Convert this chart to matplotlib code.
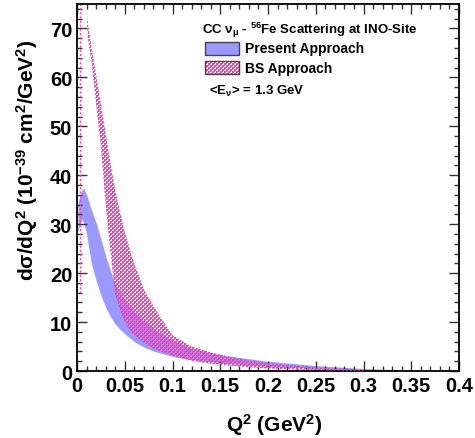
import numpy as np
import matplotlib
matplotlib.use("Agg")
import matplotlib.pyplot as plt
from matplotlib.patches import Rectangle

plt.rcParams['font.family'] = ['Liberation Sans', 'DejaVu Sans']
plt.rcParams['font.weight'] = 'bold'
plt.rcParams['mathtext.fontset'] = 'custom'
plt.rcParams['mathtext.rm'] = 'Liberation Sans:bold'
plt.rcParams['mathtext.bf'] = 'Liberation Sans:bold'
plt.rcParams['mathtext.it'] = 'Liberation Sans'
plt.rcParams['mathtext.default'] = 'bf'

# ---------------- data ----------------
present_q = [0.001, 0.003, 0.005, 0.007, 0.01, 0.015, 0.02, 0.025, 0.03, 0.035, 0.04, 0.045,
             0.05, 0.06, 0.07, 0.08, 0.09, 0.1, 0.12, 0.15, 0.18, 0.2, 0.25, 0.3, 0.35, 0.4]
present_upper = [34, 35.8, 37, 37.3, 36, 33, 30.3, 27, 23.5, 20.5, 17.8, 16,
                 14.5, 12.2, 10.3, 8.7, 7.4, 6.3, 4.7, 3.3, 2.5, 2.0, 1.1, 0.5, 0.2, 0.08]
present_lower = [28.5, 30, 31, 30.3, 28, 22, 18.5, 15.5, 13, 11.1, 9.6, 8.5,
                 7.6, 6.0, 4.9, 4.1, 3.5, 3.0, 2.3, 1.7, 1.2, 0.95, 0.45, 0.2, 0.08, 0.03]

bs_q = [0.0105, 0.0125, 0.015, 0.02, 0.025, 0.03, 0.0325, 0.035, 0.0375, 0.04, 0.045, 0.05,
        0.055, 0.06, 0.07, 0.08, 0.09, 0.1, 0.12, 0.14, 0.17, 0.2, 0.25, 0.3]
bs_lower = [70, 66.5, 63.5, 54.5, 46, 34, 29, 24.5, 20, 15.5, 12.5, 10,
            8.5, 7.3, 5.8, 4.6, 3.8, 3.1, 2.1, 1.5, 0.9, 0.5, 0.2, 0.05]
bs_upper = [72.5, 69.5, 66.5, 60.5, 54.5, 48.5, 45.5, 42.5, 39.7, 37, 32.5, 28.5,
            25, 22, 16.7, 13.3, 10.2, 7.3, 5.0, 3.8, 2.5, 1.6, 0.7, 0.25]
bs_edge_q = [0.003, 0.003]
bs_edge_y = [16, 75]

xticks = [0, 0.05, 0.1, 0.15, 0.2, 0.25, 0.3, 0.35, 0.4]
xticklabels = ["0", "0.05", "0.1", "0.15", "0.2", "0.25", "0.3", "0.35", "0.4"]
yticks = [0, 10, 20, 30, 40, 50, 60, 70]
yticklabels = ["0", "10", "20", "30", "40", "50", "60", "70"]

BLUE = '#9999ff'
PINK = '#ff3ca8'

W, H = 475, 439
fig = plt.figure(figsize=(W / 100, H / 100), dpi=100)
ax_l, ax_r, ax_t, ax_b = 77, 459, 5, 372
ax = fig.add_axes([ax_l / W, 1 - ax_b / H, (ax_r - ax_l) / W, (ax_b - ax_t) / H])
ax.set_zorder(0)

# checker pattern (pixel exact, whole figure)
ii, jj = np.mgrid[0:H, 0:W]
rgba = np.zeros((H, W, 4))
pat = ((ii // 2 + jj // 2) % 2 == 0) | ((ii % 2 == 0) & (jj % 2 == 0))
rgba[pat] = matplotlib.colors.to_rgba(PINK)

# Present approach band
ax.fill_between(present_q, present_lower, present_upper, color=BLUE, lw=0, zorder=1)

# BS approach band: checker pattern clipped to band
bs_poly = ax.fill_between(bs_q, bs_lower, bs_upper, facecolor='none', lw=0, zorder=1)
band_img = fig.figimage(rgba, xo=0, yo=0, origin='upper', zorder=0.5)
band_img.set_clip_path(bs_poly.get_paths()[0], ax.transData)
ax.plot(bs_edge_q, bs_edge_y, color=PINK, lw=1, ls=(0, (1.5, 1.5)), zorder=2)

ax.set_xlim(0, 0.4)
ax.set_ylim(0, 75)
ax.set_xticks(xticks)
ax.set_xticklabels(xticklabels)
ax.set_yticks(yticks)
ax.set_yticklabels(yticklabels)
ax.set_xticks(np.arange(0, 0.4001, 0.01), minor=True)
ax.set_yticks(np.arange(0, 75.01, 2), minor=True)
ax.tick_params(which='both', direction='in', top=True, right=True, width=1, color='#333333')
ax.tick_params(which='major', length=7.5, labelsize=14.5, pad=3.5)
ax.tick_params(which='minor', length=3.8)
for s in ax.spines.values():
    s.set_linewidth(1.3)

# axis titles
fig.text(274 / W, 1 - 425 / H, r"Q$^{2}$ (GeV$^{2}$)", ha='center', va='center',
         fontsize=15, fontweight='bold')
fig.text(27 / W, 1 - 160 / H, r"d$\mathbf{\sigma}$/dQ$^{2}$ (10$^{-39}$ cm$^{2}$/GeV$^{2}$)",
         ha='center', va='center', rotation=90, fontsize=15, fontweight='bold')

# legend
fig.text(202 / W, 1 - 30 / H, r"CC $\mathit{\nu}_{\mu}$ - $^{56}$Fe Scattering at INO-Site",
         ha='left', va='center', fontsize=9.5, fontweight='bold')
box_blue = Rectangle((205 / W, 1 - 56 / H), 34 / W, 13 / H, transform=fig.transFigure,
                     facecolor=BLUE, edgecolor='#444444', lw=1, zorder=3)
fig.patches.append(box_blue)
leg_img = fig.figimage(rgba, xo=0, yo=0, origin='upper', zorder=2)
leg_img.set_clip_path(Rectangle((205 / W, 1 - 75 / H), 34 / W, 13 / H, transform=fig.transFigure))
box_pink = Rectangle((205 / W, 1 - 75 / H), 34 / W, 13 / H, transform=fig.transFigure,
                     facecolor='none', edgecolor='#444444', lw=1, zorder=3)
fig.patches.append(box_pink)
fig.text(245 / W, 1 - 49 / H, "Present Approach", ha='left', va='center', fontsize=10, fontweight='bold')
fig.text(245 / W, 1 - 69 / H, "BS Approach", ha='left', va='center', fontsize=10, fontweight='bold')
fig.text(209 / W, 1 - 91 / H, r"<E$_{\mathit{\nu}}$> = 1.3 GeV", ha='left', va='center',
         fontsize=9.5, fontweight='bold')

fig.savefig("out.png", dpi=100)
